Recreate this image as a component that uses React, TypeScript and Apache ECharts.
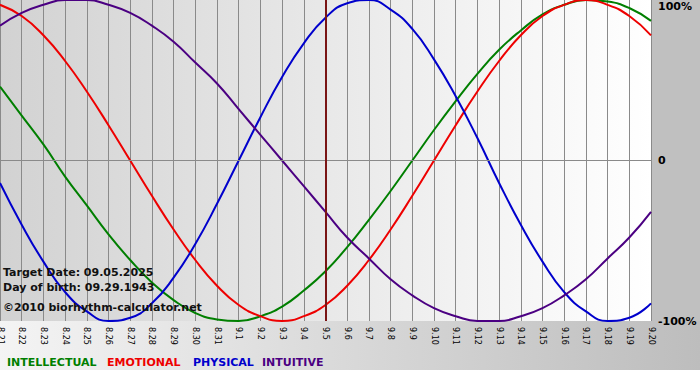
import React, { useEffect, useRef } from "react";
import * as echarts from "echarts";

const categories = [
  "8.21", "8.22", "8.23", "8.24", "8.25", "8.26", "8.27", "8.28", "8.29", "8.30", "8.31",
  "9.1", "9.2", "9.3", "9.4", "9.5", "9.6", "9.7", "9.8", "9.9", "9.10",
  "9.11", "9.12", "9.13", "9.14", "9.15", "9.16", "9.17", "9.18", "9.19", "9.20",
];

const intellectual = [
  0.46, 0.28, 0.1, -0.1, -0.28, -0.46, -0.62, -0.76, -0.87, -0.95, -0.99,
  -1.0, -0.97, -0.91, -0.81, -0.69, -0.54, -0.37, -0.19, 0, 0.19,
  0.37, 0.54, 0.69, 0.81, 0.91, 0.97, 1.0, 0.99, 0.95, 0.87,
];

const emotional = [
  0.97, 0.9, 0.78, 0.62, 0.43, 0.22, 0, -0.22, -0.43, -0.62, -0.78,
  -0.9, -0.97, -1.0, -0.97, -0.9, -0.78, -0.62, -0.43, -0.22, 0,
  0.22, 0.43, 0.62, 0.78, 0.9, 0.97, 1.0, 0.97, 0.9, 0.78,
];

const physical = [
  -0.14, -0.4, -0.63, -0.82, -0.94, -1.0, -0.98, -0.89, -0.73, -0.52, -0.27,
  0, 0.27, 0.52, 0.73, 0.89, 0.98, 1.0, 0.94, 0.82, 0.63,
  0.4, 0.14, -0.14, -0.4, -0.63, -0.82, -0.94, -1.0, -0.98, -0.89,
];

const intuitive = [
  0.84, 0.92, 0.97, 1.0, 1.0, 0.97, 0.92, 0.84, 0.74, 0.61, 0.48,
  0.32, 0.16, 0, -0.16, -0.32, -0.48, -0.61, -0.74, -0.84, -0.92,
  -0.97, -1.0, -1.0, -0.97, -0.92, -0.84, -0.74, -0.61, -0.48, -0.32,
];

const targetDay = "9.5";
const infoLines = [
  "Target Date: 09.05.2025",
  "Day of birth: 09.29.1943",
  "\u00A92010 biorhythm-calculator.net",
];
const legendNames = ["INTELLECTUAL", "EMOTIONAL", "PHYSICAL", "INTUITIVE"];

const COLORS = ["#007f00", "#ee0000", "#0000cc", "#4b0082"];
const FONT = '"DejaVu Sans", Verdana, sans-serif';

export default function App() {
  const ref = useRef<HTMLDivElement>(null);

  useEffect(() => {
    if (!ref.current) return;
    const chart = echarts.init(ref.current, null, { renderer: "svg" });
    const seriesData = [intellectual, emotional, physical, intuitive];
    const legendX = [7, 107, 193, 262];

    const option: any = {
      animation: false,
      backgroundColor: "#ffffff",
      grid: {
        left: 0,
        right: 49,
        top: 0,
        bottom: 59,
        containLabel: false,
        outerBoundsMode: "none",
      },
      xAxis: {
        type: "category",
        data: categories,
        boundaryGap: false,
        axisLine: { show: true, lineStyle: { color: "#8a8a8a", width: 1 } },
        axisTick: { show: true, length: 4, interval: 0, lineStyle: { color: "#8a8a8a" } },
        splitLine: { show: true, interval: 0, lineStyle: { color: "#8a8a8a", width: 1 } },
        axisLabel: {
          interval: 0,
          rotate: -90,
          margin: 6,
          color: "#000",
          fontFamily: FONT,
          fontSize: 8,
          hideOverlap: false,
        },
      },
      yAxis: {
        type: "value",
        position: "right",
        min: -1,
        max: 1,
        interval: 1,
        axisLine: { show: false },
        axisTick: { show: false },
        splitLine: { show: false },
        axisLabel: {
          margin: 7,
          color: "#000",
          fontFamily: FONT,
          fontSize: 11,
          fontWeight: "bold",
          formatter: (v: number) => {
            if (v === 1) return "{t|100%}";
            if (v === -1) return "-100%";
            return "0";
          },
          rich: {
            t: {
              fontFamily: FONT,
              fontSize: 11,
              fontWeight: "bold",
              color: "#000",
              padding: [12, 0, 0, 0],
            },
          },
        },
      },
      series: seriesData.map((d, i) => ({
        name: legendNames[i],
        type: "line",
        data: d,
        smooth: true,
        symbol: "none",
        lineStyle: { color: COLORS[i], width: 2 },
        z: 3,
        markLine:
          i === 0
            ? {
                silent: true,
                symbol: "none",
                label: { show: false },
                data: [
                  { yAxis: 0, lineStyle: { color: "#8a8a8a", width: 1, type: "solid" } },
                  { xAxis: targetDay, lineStyle: { color: "#7a1515", width: 2, type: "solid" } },
                ],
              }
            : undefined,
      })),
      graphic: [
        {
          type: "rect",
          z: -20,
          silent: true,
          shape: { x: 0, y: 0, width: 700, height: 321 },
          style: { fill: "#c0c0c0" },
        },
        {
          type: "rect",
          z: -20,
          silent: true,
          shape: { x: 0, y: 321, width: 700, height: 49 },
          style: {
            fill: new echarts.graphic.LinearGradient(0, 0, 1, 0, [
              { offset: 0, color: "#f4f4f4" },
              { offset: 1, color: "#bdbdbd" },
            ]),
          },
        },
        {
          type: "rect",
          z: -19,
          silent: true,
          shape: { x: 0, y: 0, width: 651, height: 321 },
          style: {
            fill: new echarts.graphic.LinearGradient(0, 0, 1, 0, [
              { offset: 0, color: "#d2d2d2" },
              { offset: 1, color: "#ffffff" },
            ]),
          },
        },
        ...infoLines.map((t, i) => ({
          type: "text",
          z: 100,
          silent: true,
          x: 3,
          y: [272, 287, 307][i],
          style: {
            text: t,
            fill: "#111",
            font: `bold 11px ${FONT}`,
            verticalAlign: "middle",
          },
        })),
        ...legendNames.map((t, i) => ({
          type: "text",
          z: 100,
          silent: true,
          x: legendX[i],
          y: 362,
          style: {
            text: t,
            fill: COLORS[i],
            font: `bold 11px ${FONT}`,
            verticalAlign: "middle",
          },
        })),
      ],
    };

    chart.setOption(option);
    return () => chart.dispose();
  }, []);

  return (
    <div
      ref={ref}
      style={{ position: "fixed", left: 0, top: 0, width: 700, height: 380 }}
    />
  );
}
